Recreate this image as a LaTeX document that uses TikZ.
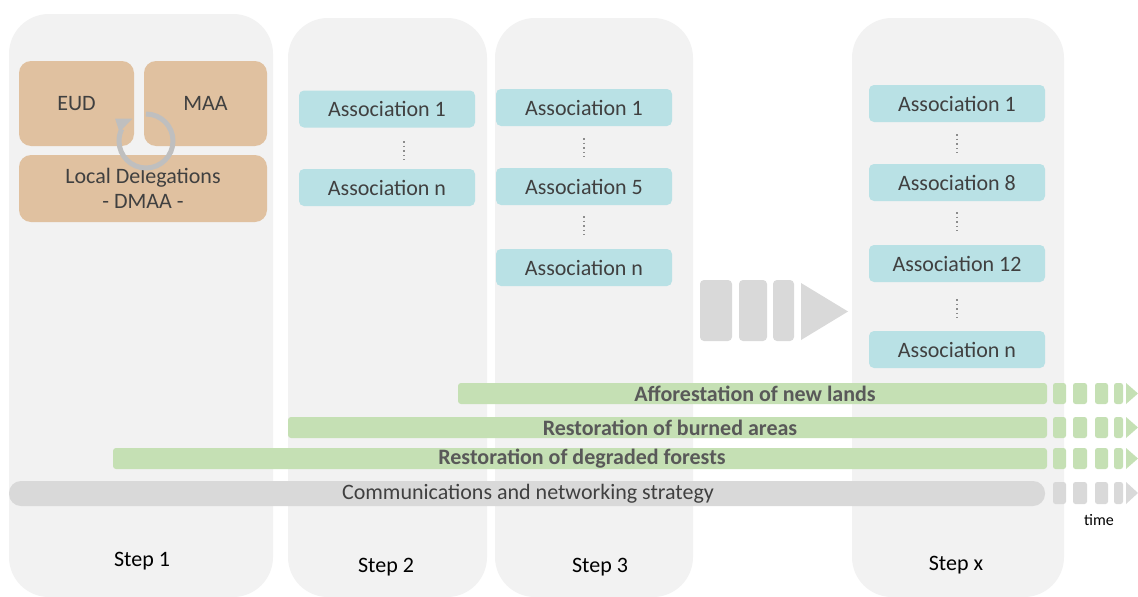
\documentclass[tikz,border=0pt]{standalone}
\usepackage{fontspec}
\setmainfont{Carlito}
\begin{document}
\begin{tikzpicture}[x=1pt,y=-1pt,
  panel/.style={fill=panelc,draw=none,rounded corners=40pt},
  tanbox/.style={fill=tanc,draw=none,rounded corners=12pt,text=txtc,font=\fontsize{22}{24}\selectfont,align=center,inner sep=0pt},
  assoc/.style={fill=bluec,draw=none,rounded corners=5pt,text=txtc,font=\fontsize{22}{24}\selectfont,minimum width=176pt,minimum height=37pt,inner sep=0pt},
  gbar/.style={fill=greenc,draw=none,rounded corners=3pt},
  gseg/.style={fill=greenc,draw=none,rounded corners=2.5pt},
  sseg/.style={fill=grayc,draw=none,rounded corners=2.5pt},
  bartxt/.style={text=bartxtc,font=\bfseries\fontsize{22}{24}\selectfont,inner sep=0pt},
  steplbl/.style={text=black,font=\fontsize{22}{24}\selectfont,inner sep=0pt},
  vdots/.style={draw=dotc,line width=1.6pt,dash pattern=on 1.6pt off 3pt}
]
\definecolor{panelc}{HTML}{F2F2F2}
\definecolor{tanc}{HTML}{E0C1A0}
\definecolor{bluec}{HTML}{B9E1E5}
\definecolor{greenc}{HTML}{C5E0B4}
\definecolor{grayc}{HTML}{D9D9D9}
\definecolor{txtc}{HTML}{404040}
\definecolor{bartxtc}{HTML}{595959}
\definecolor{dotc}{HTML}{8C8C8C}
\definecolor{arrc}{HTML}{BFBFBF}
\useasboundingbox (0,0) rectangle (1138,597);
\fill[white] (0,0) rectangle (1138,597);
% panels
\fill[panel] (9,14) rectangle (273,597);
\fill[panel] (288,18) rectangle (487,597);
\fill[panel] (495,18) rectangle (693,597);
\fill[panel] (852,18) rectangle (1064,597);
% step 1 boxes
\node[tanbox,minimum width=115pt,minimum height=85pt] (eud) at (76.5,103.5) {EUD};
\node[tanbox,minimum width=123pt,minimum height=85pt] (maa) at (205.5,103.5) {MAA};
\node[tanbox,minimum width=248pt,minimum height=67pt] (ld) at (143,188.5) {Local Delegations\\[1pt]- DMAA -};
\draw[arrc,line width=5pt] (146,141) ++(270:27) arc[start angle=270,end angle=566,radius=27] coordinate (arrend);
\fill[arrc] (119.5,132) -- (132.5,118.5) -- (115,118.5) -- cycle;
% step 2
\node[assoc] (a21) at (387,109) {Association 1};
\draw[vdots] (404,141) -- (404,160);
\node[assoc] (a2n) at (387,187.5) {Association n};
% step 3
\node[assoc] (a31) at (584,107.5) {Association 1};
\draw[vdots] (584,138) -- (584,157);
\node[assoc] (a35) at (584,186.5) {Association 5};
\draw[vdots] (584,216) -- (584,235);
\node[assoc] (a3n) at (584,267.5) {Association n};
% step x
\node[assoc] (ax1) at (957,103.5) {Association 1};
\draw[vdots] (957,134) -- (957,153);
\node[assoc] (ax8) at (957,182.5) {Association 8};
\draw[vdots] (957,212) -- (957,231);
\node[assoc] (ax12) at (957,263.5) {Association 12};
\draw[vdots] (957,299) -- (957,318);
\node[assoc] (axn) at (957,349.5) {Association n};
% big arrow
\fill[grayc,rounded corners=4pt] (700,280) rectangle (732,341);
\fill[grayc,rounded corners=4pt] (739,280) rectangle (767,341);
\fill[grayc,rounded corners=4pt] (773,280) rectangle (794,341);
\fill[grayc] (801,283) -- (848,311.5) -- (801,340) -- cycle;
% bars
\fill[gbar] (458,383) rectangle (1047,404);
\node[bartxt] (b1) at (755,394) {Afforestation of new lands};
\fill[gbar] (288,417) rectangle (1047,438);
\node[bartxt] (b2) at (670,428) {Restoration of burned areas};
\fill[gbar] (113,448) rectangle (1047,469);
\node[bartxt] (b3) at (582,459) {Restoration of degraded forests};
\fill[grayc,rounded corners=12pt] (9,481) rectangle (1045,506);
\node[text=txtc,font=\fontsize{22}{24}\selectfont,inner sep=0pt] (b4) at (528,494) {Communications and networking strategy};
% dashed continuations
\foreach \ya/\yb in {383/404,417/438,448/469}{
  \fill[gseg] (1053,\ya) rectangle (1066,\yb);
  \fill[gseg] (1073,\ya) rectangle (1087,\yb);
  \fill[gseg] (1095,\ya) rectangle (1108,\yb);
  \fill[gseg] (1114,\ya) rectangle (1123,\yb);
  \fill[greenc] (1126,\ya) -- (1138,{(\ya+\yb)/2}) -- (1126,\yb) -- cycle;
}
\fill[sseg] (1053,482) rectangle (1066,504);
\fill[sseg] (1073,482) rectangle (1087,504);
\fill[sseg] (1095,482) rectangle (1108,504);
\fill[sseg] (1114,482) rectangle (1123,504);
\fill[grayc] (1126,482) -- (1138,493) -- (1126,504) -- cycle;
\node[text=black,font=\fontsize{16}{18}\selectfont,inner sep=0pt] (time) at (1099,520) {time};
% step labels
\node[steplbl] (s1) at (142,561) {Step 1};
\node[steplbl] (s2) at (386,567) {Step 2};
\node[steplbl] (s3) at (600,567) {Step 3};
\node[steplbl] (sx) at (956,565) {Step x};
\end{tikzpicture}
\end{document}
